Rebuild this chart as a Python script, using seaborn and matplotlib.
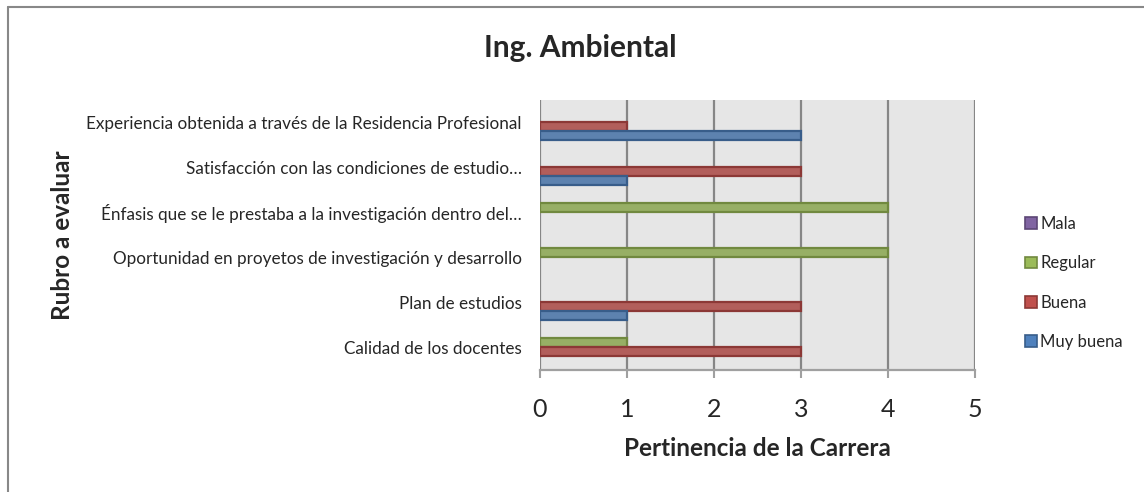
import pandas as pd
import seaborn as sns
import matplotlib.pyplot as plt
from matplotlib.lines import Line2D

# Datos (de arriba hacia abajo)
rubros = [
    'Experiencia obtenida a través de la Residencia Profesional',
    'Satisfacción con las condiciones de estudio…',
    'Énfasis que se le prestaba a la investigación dentro del…',
    'Oportunidad en proyetos de investigación y desarrollo',
    'Plan de estudios',
    'Calidad de los docentes',
]
series = ['Mala', 'Regular', 'Buena', 'Muy buena']
mala = [0, 0, 0, 0, 0, 0]
regular = [0, 0, 4, 4, 0, 1]
buena = [1, 3, 0, 0, 3, 3]
muy_buena = [3, 1, 0, 0, 1, 0]

colores = {'Mala': '#8064A2', 'Regular': '#9BBB59', 'Buena': '#C0504D', 'Muy buena': '#4F81BD'}
bordes = {'Mala': '#5C4776', 'Regular': '#71893F', 'Buena': '#8C3836', 'Muy buena': '#385D8A'}

valores = {'Mala': mala, 'Regular': regular, 'Buena': buena, 'Muy buena': muy_buena}
filas = []
for s in series:
    for r, v in zip(rubros, valores[s]):
        filas.append({'Rubro': r, 'Calificación': s, 'Valor': v})
df = pd.DataFrame(filas)

sns.set_theme(style="white")
plt.rcParams['font.family'] = ['Lato', 'DejaVu Sans']

fig = plt.figure(figsize=(11.44, 4.92), dpi=100)
ax = fig.add_axes([0.472, 0.248, 0.38, 0.549])
ax.set_facecolor('#E6E6E6')

sns.barplot(data=df, y='Rubro', x='Valor', hue='Calificación', order=rubros,
            hue_order=series, palette=colores, width=0.8, ax=ax, legend=False,
            zorder=3)

# bordes más oscuros; las barras en cero no se dibujan
for cont, s in zip(ax.containers, series):
    for p in cont:
        if p.get_width() == 0:
            p.set_visible(False)
        p.set_edgecolor(bordes[s])
        p.set_linewidth(1.6)

ax.set_xlim(0, 5)
ax.set_xticks(range(0, 6))
ax.grid(axis='x', color='#868686', linewidth=1.6, zorder=0)
ax.set_axisbelow(True)
for lado in ['top', 'right', 'left']:
    ax.spines[lado].set_visible(False)
ax.spines['bottom'].set_color('#A0A0A0')
ax.spines['bottom'].set_linewidth(1.6)
ax.tick_params(axis='x', direction='out', length=6, width=1.5, color='#A0A0A0',
               labelsize=18, pad=14, bottom=True)
ax.tick_params(axis='y', length=0, labelsize=12.3, pad=13)
ax.set_xlabel('Pertinencia de la Carrera', fontsize=17.5, fontweight='bold', labelpad=12)
ax.set_ylabel('')

fig.text(0.055, 0.522, 'Rubro a evaluar', rotation=90, ha='center', va='center',
         fontsize=17.5, fontweight='bold')
fig.text(0.507, 0.902, 'Ing. Ambiental', ha='center', va='center',
         fontsize=21.5, fontweight='bold')

handles = [plt.Rectangle((0, 0), 1, 1, facecolor=colores[s], edgecolor=bordes[s], linewidth=1.2)
           for s in series]
fig.legend(handles, series, loc='center left', bbox_to_anchor=(0.883, 0.425),
           frameon=False, fontsize=12, handlelength=0.7, handleheight=0.7,
           handletextpad=0.2, labelspacing=1.4)

# borde del área del gráfico (solo arriba e izquierda visibles)
fig.add_artist(Line2D([0.007, 0.007], [0, 0.986], color='#888888', linewidth=1.5))
fig.add_artist(Line2D([0.007, 1], [0.986, 0.986], color='#888888', linewidth=1.5))

fig.savefig('out.png', dpi=100)
